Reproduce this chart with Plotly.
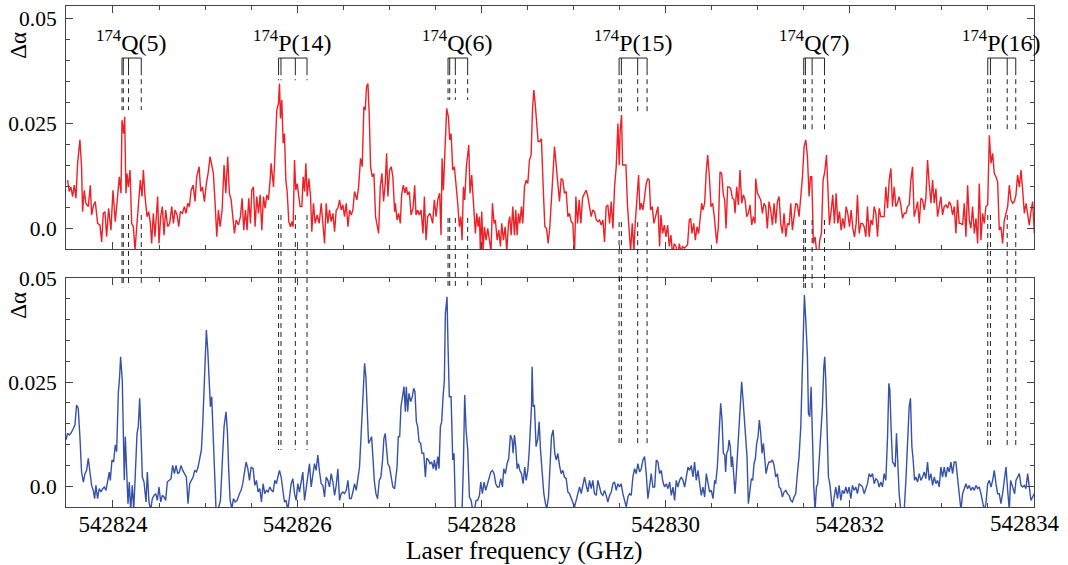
import plotly.graph_objects as go

F0 = 542823.0  # GHz, offsets below are relative to this

# ---------------- upper (red) spectrum ----------------
top_freq_offset = [
 0.507,0.525,0.543,0.562,0.580,0.598,0.616,0.641,0.659,0.670,
 0.688,0.706,0.732,0.754,0.768,0.790,0.808,0.833,0.859,0.877,
 0.895,0.913,0.931,0.953,0.978,1.000,1.025,1.043,1.069,1.087,
 1.098,1.116,1.127,1.141,1.152,1.167,1.185,1.203,1.221,1.239,
 1.254,1.275,1.297,1.315,1.330,1.348,1.370,1.388,1.406,1.420,
 1.438,1.456,1.471,1.485,1.500,1.518,1.536,1.554,1.572,1.594,
 1.616,1.638,1.656,1.674,1.696,1.714,1.732,1.754,1.775,1.793,
 1.812,1.830,1.848,1.870,1.891,1.909,1.935,1.953,1.971,1.993,
 2.014,2.033,2.054,2.072,2.090,2.109,2.127,2.145,2.163,2.185,
 2.206,2.225,2.246,2.264,2.283,2.301,2.319,2.337,2.362,2.384,
 2.402,2.420,2.438,2.456,2.474,2.493,2.507,2.525,2.543,2.561,
 2.580,2.598,2.616,2.634,2.652,2.670,2.688,2.706,2.717,2.743,
 2.761,2.779,2.797,2.808,2.819,2.833,2.848,2.862,2.877,2.891,
 2.909,2.927,2.942,2.956,2.971,2.985,3.000,3.014,3.032,3.051,
 3.065,3.080,3.094,3.109,3.127,3.145,3.159,3.177,3.195,3.217,
 3.239,3.261,3.279,3.297,3.315,3.333,3.351,3.369,3.388,3.406,
 3.424,3.442,3.460,3.478,3.496,3.514,3.533,3.551,3.569,3.587,
 3.605,3.623,3.648,3.667,3.688,3.706,3.724,3.739,3.753,3.768,
 3.782,3.797,3.815,3.833,3.851,3.869,3.884,3.902,3.920,3.938,
 3.956,3.971,3.985,4.003,4.021,4.039,4.058,
 4.066,4.084,4.102,4.120,4.134,4.152,4.171,4.185,4.200,4.218,
 4.236,4.258,4.276,4.290,4.308,4.326,4.345,4.366,4.381,4.399,
 4.417,4.439,4.453,4.471,4.489,4.508,4.526,4.547,4.562,4.573,
 4.587,4.605,4.623,4.642,4.656,4.671,4.689,4.707,4.725,4.743,
 4.761,4.776,4.790,4.805,4.819,4.837,4.863,4.877,4.895,4.910,
 4.924,4.935,4.950,4.964,4.979,4.989,5.004,5.018,5.033,5.051,
 5.069,5.087,5.105,5.120,5.138,5.152,5.171,5.189,5.207,5.221,
 5.239,5.258,5.276,5.294,5.308,5.323,5.341,5.359,5.373,5.388,
 5.402,5.417,5.435,5.449,5.468,5.486,5.504,5.522,5.540,5.555,
 5.569,5.584,5.602,5.616,5.634,5.652,5.671,5.689,5.707,5.725,
 5.743,5.758,5.772,5.794,5.812,5.830,5.848,5.866,5.884,5.902,
 5.921,5.939,5.957,5.975,5.993,6.011,6.026,6.044,6.062,6.080,
 6.098,6.120,6.138,6.156,6.174,6.192,6.210,6.228,6.247,6.265,
 6.283,6.301,6.319,6.337,6.355,6.373,6.392,6.410,6.428,6.446,
 6.464,6.482,6.497,6.507,6.522,6.533,6.551,6.569,6.587,6.605,
 6.620,6.638,6.656,6.670,6.689,6.707,6.721,6.736,6.754,6.772,
 6.790,6.808,6.823,6.837,6.855,6.873,6.895,6.917,6.935,6.949,
 6.968,6.986,7.004,7.022,7.040,7.058,7.076,7.094,7.113,7.131,
 7.149,7.167,7.185,7.203,7.221,7.239,7.257,7.272,7.286,7.305,
 7.323,7.341,7.359,7.377,7.392,7.406,7.424,7.442,7.457,7.475,
 7.493,7.511,7.529,
 7.555,7.573,7.591,7.609,7.627,7.642,7.656,7.674,7.689,7.707,
 7.725,7.743,7.754,7.772,7.790,7.808,7.826,7.844,7.863,7.881,
 7.899,7.917,7.935,7.953,7.971,7.978,7.997,8.015,8.033,8.051,
 8.069,8.087,8.105,8.123,8.141,8.160,8.178,8.196,8.214,8.232,
 8.250,8.268,8.286,8.305,8.323,8.341,8.359,8.377,8.395,8.413,
 8.431,8.449,8.468,8.486,8.504,8.522,8.540,8.558,8.573,8.587,
 8.605,8.623,8.638,8.656,8.674,8.692,8.710,8.728,8.747,8.761,
 8.779,8.797,8.815,8.833,8.852,8.870,8.888,8.906,8.924,8.942,
 8.960,8.978,8.997,9.015,9.033,9.051,9.069,9.083,9.102,9.120,
 9.138,9.156,9.174,9.192,9.210,9.228,9.247,9.265,9.283,9.301,
 9.319,9.337,9.355,9.373,9.391,9.410,9.428,9.446,9.464,9.482,
 9.500,9.518,9.536,9.554,9.573,9.591,9.609,9.627,9.645,9.663,
 9.681,9.699,9.717,9.736,9.754,9.772,9.790,9.808,9.826,9.844,
 9.862,9.881,9.899,9.917,9.935,9.953,9.971,9.989,10.007,10.025,
 10.043,10.062,10.080,10.098,10.116,10.134,10.152,10.170,10.188,10.207,
 10.225,10.243,10.261,10.279,10.297,10.315,10.333,10.352,10.370,10.388,
 10.406,10.424,10.442,10.460,10.478,10.497,10.515,10.533,10.551,10.569,
 10.587,10.605,10.623,10.641,10.659,10.678,10.696,10.714,10.732,10.750,
 10.768,10.786,10.804,10.822,10.841,10.859,10.877,10.895,10.913,10.931,
 10.949,10.967,10.985,11.004,11.015,
]
top_dalpha_milli = [
 11.4,8.7,9.8,7.5,10.2,7.1,15.4,21.0,14.6,3.9,
 9.0,5.9,5.1,10.2,3.1,5.5,6.3,1.1,0.7,-3.3,
 3.5,3.9,-2.1,4.7,-0.5,9.0,1.5,6.3,12.2,8.3,
 25.7,22.5,26.5,8.3,13.0,9.8,13.8,1.1,0.3,-5.2,
 -0.5,4.3,11.4,7.5,13.8,7.5,2.7,3.9,1.1,-3.7,
 3.5,-2.1,2.7,7.5,-3.7,2.7,5.1,-1.7,4.3,0.3,
 1.1,5.1,1.1,4.3,3.1,0.3,3.9,3.5,5.1,3.5,
 5.9,5.1,9.0,10.2,6.3,12.2,14.6,8.7,9.8,6.3,
 10.6,13.0,17.0,15.0,13.0,5.9,-2.1,4.3,0.3,4.3,
 15.0,8.3,17.0,8.3,6.7,2.7,-1.3,1.9,0.7,2.7,
 7.1,-0.5,4.3,-0.5,7.1,1.1,9.0,9.8,0.3,7.5,
 3.5,7.9,-0.5,7.5,4.7,7.9,6.7,11.4,15.4,9.8,
 21.0,28.1,29.7,34.4,26.1,30.5,20.2,22.5,11.4,8.7,
 1.5,0.3,1.5,0.3,16.2,9.0,10.6,7.5,5.1,5.1,
 12.2,8.7,15.4,7.5,11.8,7.5,-0.9,5.9,1.1,3.1,
 1.1,5.9,1.1,-3.7,5.9,1.1,4.3,1.5,3.5,-0.9,
 4.3,4.7,6.7,4.3,5.5,2.7,5.9,0.3,4.3,3.1,
 4.3,8.7,6.7,9.8,16.6,14.6,28.9,28.1,33.7,34.4,
 27.3,14.6,12.2,13.0,2.7,0.3,-1.3,9.8,13.0,6.3,
 10.6,17.8,7.5,13.8,14.6,12.2,3.9,
 5.9,1.9,3.5,1.1,7.9,10.2,8.3,9.8,7.9,8.7,
 3.1,4.7,10.2,3.1,4.3,3.1,4.3,-1.3,7.5,-2.9,
 2.7,3.5,2.7,1.1,6.7,2.7,6.7,8.3,-1.7,16.6,
 9.0,17.0,28.5,26.5,21.0,22.5,13.8,14.6,10.6,5.9,
 0.3,2.7,-2.9,9.8,6.7,14.6,19.8,8.3,12.6,7.5,
 2.7,-1.3,3.5,0.3,2.7,-5.6,3.9,-5.6,0.3,-2.9,
 -0.1,-2.9,-5.6,5.9,1.1,1.9,-2.9,-0.5,-4.4,1.1,
 -2.9,0.3,-5.6,1.1,2.7,-1.7,5.1,-1.7,4.3,-1.7,
 3.5,1.1,5.1,1.1,9.8,11.4,10.6,16.2,17.4,28.1,
 32.9,29.7,24.9,20.6,20.6,21.3,9.8,0.3,-0.1,-3.7,
 0.3,5.1,11.0,19.4,15.0,10.6,6.3,11.8,11.4,8.3,
 8.7,2.7,3.5,1.5,1.1,-6.8,7.5,1.1,6.7,1.1,
 7.1,8.3,9.0,7.5,4.7,2.7,4.3,3.9,1.9,1.5,
 1.9,0.7,1.9,-3.3,5.1,5.5,1.1,6.3,-0.1,9.8,
 14.6,24.9,15.0,23.3,26.9,15.0,15.0,15.0,5.1,0.3,
 -5.6,1.1,-5.6,1.1,7.5,12.6,4.3,5.9,4.3,8.3,
 10.6,11.8,11.4,4.3,5.1,1.1,3.1,5.1,-4.4,3.1,
 -1.3,0.7,-2.1,0.7,-4.4,-1.7,-6.4,-3.7,-4.4,-6.8,
 -3.7,-5.6,-4.4,-4.8,-4.4,-4.0,1.9,2.3,-1.3,1.1,
 -2.9,0.3,-1.3,2.7,5.9,4.3,5.9,13.8,17.4,12.2,
 5.1,5.9,2.7,
 -3.7,0.3,13.4,13.0,7.9,6.7,-0.1,9.8,9.8,9.4,
 7.1,6.7,3.5,9.8,5.5,13.8,5.9,7.9,6.7,2.7,
 3.5,5.5,0.7,2.7,1.1,11.8,8.3,7.5,6.7,3.5,
 5.9,5.1,-0.1,6.3,4.3,0.7,5.9,1.1,6.3,7.5,
 1.1,-1.3,3.5,-2.1,1.1,0.7,5.9,-0.5,3.5,5.9,
 5.5,2.7,7.5,12.2,19.4,21.0,17.0,7.5,12.2,12.2,
 -3.7,-2.1,-5.2,-7.6,-2.9,-1.3,11.4,13.4,17.4,9.0,
 0.7,3.9,7.9,1.1,8.3,1.1,3.9,-0.5,2.3,-0.1,
 5.1,3.5,0.3,4.3,-0.1,-2.1,1.1,7.9,-1.3,1.1,
 1.1,0.3,-2.1,5.1,-2.1,1.9,0.7,5.1,3.5,-2.1,
 4.7,2.7,2.7,2.7,9.8,4.7,11.4,14.2,5.1,9.8,
 5.1,5.9,7.5,5.5,2.3,3.5,3.5,5.1,5.5,11.4,
 14.6,2.7,4.3,6.3,1.1,7.1,6.7,4.3,7.1,16.2,
 10.6,5.9,11.4,5.9,9.4,2.7,5.1,7.5,3.1,5.1,
 5.5,4.7,6.3,5.5,3.1,5.1,-1.3,6.7,1.1,1.1,
 0.7,5.9,-2.1,10.2,1.9,-0.1,5.1,-1.3,2.3,-3.7,
 10.6,-2.9,3.5,1.1,5.1,5.5,22.1,15.4,17.8,13.0,
 12.2,11.0,-0.5,0.3,-3.7,1.9,3.5,5.1,10.2,6.7,
 5.9,6.3,7.9,12.6,9.8,13.8,9.0,3.5,5.9,2.7,
 0.7,3.9,6.3,-1.3,4.3,
]

# ---------------- lower (blue) spectrum ----------------
bot_freq_offset = [
 0.489,0.507,0.525,0.543,0.562,0.587,0.605,0.623,0.641,0.659,
 0.678,0.696,0.714,0.732,0.750,0.768,0.786,0.801,0.815,0.833,
 0.851,0.870,0.888,0.906,0.924,0.942,0.960,0.971,0.989,1.007,
 1.025,1.040,1.058,1.072,1.083,1.101,1.112,1.123,1.134,1.149,
 1.163,1.177,1.192,1.210,1.225,1.243,1.261,1.275,1.290,1.304,
 1.319,1.337,1.359,1.373,1.391,1.409,1.427,1.446,1.464,1.482,
 1.500,1.518,1.536,1.554,1.572,1.590,1.612,1.630,1.648,1.667,
 1.685,1.703,1.721,1.739,1.757,1.775,1.797,1.815,1.833,1.851,
 1.870,1.888,1.906,1.924,1.942,1.960,1.975,1.989,2.004,2.014,
 2.029,2.047,2.058,2.072,2.087,2.101,2.119,2.145,2.167,2.188,
 2.206,2.228,2.243,2.257,2.272,2.290,2.308,2.326,2.348,2.373,
 2.391,2.409,2.427,2.445,2.464,2.482,2.500,2.522,2.540,2.558,
 2.576,2.594,2.612,2.630,2.648,2.667,2.685,2.703,2.721,2.739,
 2.757,2.775,2.790,2.808,2.826,2.844,2.862,2.880,2.898,2.917,
 2.935,2.953,2.971,2.989,3.007,3.025,3.043,3.061,3.080,3.098,
 3.116,3.134,3.152,3.170,3.188,3.206,3.224,3.243,3.261,3.279,
 3.297,3.315,3.333,3.351,3.369,3.388,3.406,3.424,3.442,3.460,
 3.478,3.496,3.514,3.533,3.551,3.569,3.587,3.605,3.623,3.641,
 3.659,3.677,3.695,3.714,3.732,3.746,3.761,3.775,3.793,3.808,
 3.822,3.837,3.855,3.873,3.891,3.909,3.927,3.942,3.956,3.971,
 3.985,4.003,4.021,4.039,4.058,
 4.066,4.084,4.098,4.113,4.127,4.145,4.160,4.174,4.185,4.200,
 4.214,4.232,4.250,4.265,4.279,4.294,4.308,4.323,4.341,4.355,
 4.374,4.392,4.406,4.424,4.442,4.460,4.479,4.489,4.508,4.526,
 4.540,4.555,4.569,4.584,4.598,4.609,4.620,4.627,4.638,4.652,
 4.671,4.689,4.703,4.718,4.736,4.754,4.772,4.790,4.805,4.819,
 4.834,4.852,4.870,4.888,4.906,4.924,4.942,4.960,4.979,4.993,
 5.011,5.029,5.047,5.066,5.084,5.102,5.120,5.138,5.156,5.174,
 5.192,5.210,5.229,5.243,5.261,5.279,5.297,5.315,5.334,5.344,
 5.359,5.373,5.388,5.402,5.417,5.435,5.453,5.471,5.486,5.504,
 5.518,5.533,5.544,5.551,5.562,5.576,5.594,5.613,5.627,5.642,
 5.660,5.678,5.696,5.710,5.729,5.747,5.761,5.779,5.797,5.812,
 5.830,5.848,5.866,5.884,5.902,5.921,5.939,5.957,5.975,5.993,
 6.011,6.029,6.047,6.066,6.084,6.102,6.120,6.138,6.156,6.174,
 6.192,6.210,6.228,6.247,6.265,6.283,6.301,6.319,6.337,6.355,
 6.373,6.392,6.410,6.428,6.446,6.464,6.482,6.500,6.518,6.536,
 6.555,6.573,6.591,6.609,6.627,6.645,6.663,6.681,6.699,6.718,
 6.736,6.754,6.772,6.790,6.808,6.826,6.844,6.862,6.881,6.899,
 6.917,6.935,6.953,6.971,6.989,7.007,7.026,7.044,7.062,7.080,
 7.098,7.116,7.134,7.152,7.170,7.189,7.207,7.225,7.243,7.261,
 7.279,7.297,7.315,7.333,7.352,7.370,7.388,7.406,7.424,7.442,
 7.460,7.478,7.496,7.515,7.533,
 7.544,7.562,7.580,7.598,7.613,7.627,7.642,7.652,7.663,7.678,
 7.689,7.703,7.714,7.725,7.739,7.754,7.768,7.783,7.797,7.812,
 7.826,7.841,7.855,7.870,7.884,7.899,7.917,7.931,7.946,7.960,
 7.975,7.989,8.004,8.018,8.033,8.047,8.062,8.076,8.091,8.109,
 8.123,8.141,8.160,8.178,8.196,8.214,8.232,8.250,8.268,8.286,
 8.305,8.323,8.341,8.359,8.377,8.395,8.413,8.431,8.449,8.468,
 8.482,8.497,8.507,8.522,8.540,8.551,8.565,8.580,8.594,8.609,
 8.623,8.638,8.652,8.667,8.685,8.703,8.718,8.728,8.739,8.754,
 8.768,8.783,8.797,8.812,8.830,8.848,8.866,8.884,8.902,8.920,
 8.939,8.957,8.975,8.993,9.011,9.029,9.047,9.065,9.083,9.102,
 9.120,9.138,9.156,9.174,9.192,9.210,9.228,9.247,9.265,9.283,
 9.301,9.319,9.337,9.355,9.373,9.391,9.410,9.424,9.435,9.449,
 9.464,9.478,9.493,9.507,9.522,9.536,9.554,9.573,9.591,9.609,
 9.627,9.645,9.659,9.674,9.688,9.703,9.717,9.736,9.754,9.772,
 9.790,9.808,9.826,9.844,9.862,9.881,9.899,9.917,9.935,9.953,
 9.971,9.989,10.007,10.025,10.043,10.062,10.080,10.098,10.116,10.134,
 10.152,10.170,10.188,10.207,10.225,10.243,10.261,10.279,10.297,10.315,
 10.333,10.352,10.370,10.388,10.406,10.424,10.442,10.460,10.478,10.497,
 10.515,10.533,10.551,10.569,10.587,10.605,10.623,10.641,10.659,10.678,
 10.696,10.714,10.732,10.746,10.761,10.775,10.790,10.804,10.822,10.841,
 10.859,10.877,10.895,10.913,10.931,10.949,10.967,10.985,11.004,11.015,
]
bot_dalpha_milli = [
 11.1,12.7,12.3,12.7,13.5,14.7,19.5,18.7,11.9,3.4,
 1.0,3.0,3.8,6.7,3.4,0.2,-1.0,-3.0,0.2,-3.0,
 -0.6,-1.4,-0.6,-0.2,-1.0,1.0,3.4,1.4,6.3,5.8,
 9.9,8.3,22.3,26.3,31.1,25.5,11.9,1.4,11.9,3.4,
 -4.2,1.0,-5.8,0.2,-5.8,3.0,12.7,14.3,21.1,12.7,
 2.2,1.0,-3.8,3.4,-3.8,-5.8,-3.0,-2.2,-1.8,-3.4,
 -0.2,-3.8,-2.2,-2.6,-3.4,1.0,1.4,1.8,5.0,3.0,
 5.0,3.0,3.4,5.0,3.8,3.0,2.2,-4.2,0.6,1.4,
 2.2,3.8,3.4,4.6,7.1,8.7,15.1,22.3,29.5,37.5,
 32.7,21.5,19.1,21.5,11.9,1.4,-5.8,-5.4,-3.4,6.3,
 14.3,17.9,12.7,3.8,-3.4,-5.4,-3.0,-3.8,-3.4,-1.8,
 -1.0,0.6,3.8,5.8,4.3,1.4,4.6,4.2,0.2,1.4,
 -1.4,-0.6,-3.8,0.6,-1.8,-1.0,-1.4,-0.2,-1.0,-1.4,
 1.4,0.6,2.2,3.8,2.2,-1.0,-3.8,-3.4,-5.8,-2.6,
 0.6,1.8,-1.8,-3.4,0.6,-1.4,1.4,3.4,-3.4,-0.6,
 2.6,5.4,-0.2,3.0,5.4,3.8,7.5,3.4,0.6,0.2,
 -2.6,2.2,1.4,-0.2,3.0,1.0,-2.2,0.2,4.2,-3.4,
 -1.8,-1.4,-1.8,-1.0,1.4,-3.0,-3.0,-1.4,0.6,-1.0,
 2.2,4.6,12.7,20.7,29.5,26.3,15.9,10.3,11.1,11.9,
 7.1,1.4,-1.8,-3.0,1.4,2.2,6.3,11.5,12.7,8.7,
 5.4,4.6,2.2,-0.2,-0.6,
 1.0,4.6,11.9,11.9,19.1,21.5,23.9,17.9,23.9,17.9,
 22.3,20.3,21.5,23.5,22.7,15.5,14.3,10.7,10.3,7.9,
 7.9,2.2,6.7,6.3,5.4,5.8,4.2,6.3,3.8,7.1,
 4.2,14.3,15.5,21.5,25.5,41.5,44.7,45.5,33.5,21.5,
 21.5,6.3,7.9,-5.8,-6.6,-5.8,-5.8,-5.8,5.4,21.9,
 13.5,8.7,-2.6,-3.4,-5.8,-5.8,-3.4,-3.4,-2.2,1.0,
 -1.8,1.0,-1.0,0.6,1.8,3.4,3.8,3.0,0.6,-0.2,
 -0.2,1.8,-0.2,4.2,3.0,5.4,6.7,12.3,11.1,7.9,
 12.3,9.5,4.2,5.4,3.8,3.0,0.6,4.6,1.4,3.8,
 7.9,13.5,19.1,28.7,19.1,19.5,9.5,11.5,15.5,8.7,
 2.2,-1.8,-4.2,-5.4,-2.6,4.6,11.9,13.5,7.9,6.3,
 7.9,5.0,3.0,3.8,2.2,1.8,-1.4,-1.8,-3.0,-3.8,
 -5.0,-3.4,-1.8,-0.2,-1.8,0.6,2.2,0.2,-1.4,1.4,
 -0.6,1.4,-1.8,-2.2,1.4,-0.2,-1.8,-2.2,-1.0,-2.2,
 -3.8,-2.2,-1.4,0.6,1.0,-1.0,0.6,-0.2,0.6,-1.8,
 -3.8,-5.0,-2.6,-1.8,-2.2,2.2,4.2,3.0,5.4,3.4,
 4.2,6.3,7.1,3.0,-3.0,0.6,3.0,-0.2,-0.2,6.3,
 5.8,3.0,3.8,1.0,-0.2,0.6,-0.6,1.0,-2.2,-0.2,
 -3.4,1.4,-0.2,1.4,2.2,1.4,-0.2,2.2,4.6,3.8,
 5.0,2.2,5.8,1.4,3.8,0.6,-2.2,-0.2,-2.6,3.0,
 0.6,-1.4,-1.0,-3.0,1.4,
 0.6,4.6,11.1,19.9,15.9,7.9,7.5,3.4,7.9,8.7,
 11.1,9.5,4.6,7.1,3.0,-1.8,3.0,9.5,15.9,21.5,
 25.1,20.7,15.9,9.5,7.1,-4.2,-0.2,1.8,1.4,5.4,
 6.7,10.3,11.9,15.9,12.7,7.9,10.3,6.3,3.0,5.0,
 5.8,5.8,6.3,5.0,2.2,3.0,-0.2,-0.6,-2.6,-1.4,
 -1.0,-1.8,-2.2,-3.4,-3.8,-2.6,-1.8,3.0,7.1,14.3,
 25.5,37.5,45.9,39.9,31.1,17.5,16.7,23.9,7.9,-0.2,
 -5.8,-0.2,0.6,6.3,12.7,19.1,28.7,31.1,25.5,11.1,
 2.2,0.6,-1.8,-5.8,-2.6,-0.2,-3.0,0.2,-3.4,-1.0,
 -1.8,-0.2,-1.8,-0.2,-3.0,0.2,-1.0,-0.2,-1.8,0.6,
 0.2,-0.2,-1.8,-0.6,0.6,3.0,2.2,3.0,0.6,1.8,
 1.4,-0.2,1.0,-0.2,3.0,1.4,11.9,24.7,23.1,13.5,
 5.8,5.4,4.6,12.7,4.6,-1.8,-5.8,-5.8,-5.8,1.4,
 11.9,19.1,21.1,9.5,6.3,1.4,2.2,1.0,3.0,1.4,
 2.2,3.4,1.8,5.8,1.4,3.0,0.2,2.2,0.6,1.4,
 -0.2,4.6,2.2,4.6,2.2,4.6,3.4,5.8,3.0,5.8,
 5.8,2.2,-0.2,-5.8,-1.8,-0.6,0.6,-0.6,0.2,-1.0,
 -0.2,-1.0,0.2,-0.6,-0.2,-1.8,-3.4,-5.8,-4.2,0.6,
 1.4,-0.2,1.4,3.8,0.6,-1.8,-1.8,-4.2,-1.8,1.4,
 4.6,-1.0,-5.8,1.4,0.2,-0.6,-1.8,1.4,2.2,3.0,
 0.2,-0.2,0.2,-0.6,3.0,-1.0,-3.4,-2.6,-1.8,-0.6,
]

# ---------------- line assignments (174Yb2 transitions) ----------------
isotope = "174"
group_names = ["Q(5)", "P(14)", "Q(6)", "P(15)", "Q(7)", "P(16)"]
group_line_offsets = [
    [1.098, 1.112, 1.169, 1.307],
    [2.798, 2.824, 2.980, 3.107],
    [4.638, 4.656, 4.717, 4.851],
    [6.495, 6.520, 6.697, 6.799],
    [8.500, 8.518, 8.591, 8.725],
    [10.498, 10.527, 10.709, 10.802],
]
# vertical extent of dashed markers (in Delta-alpha units)
upper_dash_end = [0.0281, 0.0352, 0.0305, 0.0276, 0.0226, 0.0226]
lower_dash_start = [0.0031, 0.0031, 0.0024, 0.0014, 0.0019, 0.0031]
bottom_dash_end = [0.0478, 0.0087, 0.0478, 0.0094, 0.0471, 0.0094]

x_ticks = [542824, 542826, 542828, 542830, 542832, 542834]
x_tick_labels = ["542824", "542826", "542828", "542830", "542832", ""]
last_tick_label = "542834"   # drawn pulled-in at the right edge, as in the original

# ---------------- figure ----------------
SERIF = "Liberation Serif, Times New Roman, serif"
RED = "#ee2026"
BLUE = "#3552a8"
TOP_DOM = [0.515, 1.0]
BOT_DOM = [0.0, 0.457]
TOP_RNG = [-0.005, 0.0529]
BOT_RNG = [-0.005, 0.050]
X_RNG = [542823.49, 542834.0]


def top_to_paper(v):
    return TOP_DOM[0] + (v - TOP_RNG[0]) / (TOP_RNG[1] - TOP_RNG[0]) * (TOP_DOM[1] - TOP_DOM[0])


def bot_to_paper(v):
    return BOT_DOM[0] + (v - BOT_RNG[0]) / (BOT_RNG[1] - BOT_RNG[0]) * (BOT_DOM[1] - BOT_DOM[0])


fig = go.Figure()
fig.add_trace(go.Scatter(
    x=[F0 + f for f in top_freq_offset],
    y=[v / 1000.0 for v in top_dalpha_milli],
    mode="lines", line=dict(color=RED, width=1.4),
    xaxis="x", yaxis="y", showlegend=False, hoverinfo="skip"))
fig.add_trace(go.Scatter(
    x=[F0 + f for f in bot_freq_offset],
    y=[v / 1000.0 for v in bot_dalpha_milli],
    mode="lines", line=dict(color=BLUE, width=1.4),
    xaxis="x2", yaxis="y2", showlegend=False, hoverinfo="skip"))

BRACKET_Y = 0.0405
SOLID_END = 0.0376
LABEL_Y = 0.0445
LINE_COL = "#222222"
DASH = "5px,4px"

shapes = []
annotations = []
for name, offs, ue, ls, be in zip(group_names, group_line_offsets,
                                  upper_dash_end, lower_dash_start, bottom_dash_end):
    xs = [F0 + o for o in offs]
    shapes.append(dict(type="line", xref="x", yref="y", x0=xs[0], x1=xs[-1],
                       y0=BRACKET_Y, y1=BRACKET_Y, line=dict(color=LINE_COL, width=1)))
    for xv in xs:
        shapes.append(dict(type="line", xref="x", yref="y", x0=xv, x1=xv,
                           y0=BRACKET_Y, y1=SOLID_END, line=dict(color=LINE_COL, width=1)))
        shapes.append(dict(type="line", xref="x", yref="y", x0=xv, x1=xv,
                           y0=SOLID_END, y1=ue, line=dict(color=LINE_COL, width=1, dash=DASH)))
        shapes.append(dict(type="line", xref="x", yref="paper", x0=xv, x1=xv,
                           y0=top_to_paper(ls), y1=bot_to_paper(be),
                           line=dict(color=LINE_COL, width=1, dash=DASH)))
    annotations.append(dict(
        text=f"<sup>{isotope}</sup>{name}", x=(xs[0] + xs[-1]) / 2, y=LABEL_Y,
        xref="x", yref="y", showarrow=False, xanchor="center", yanchor="middle",
        font=dict(family=SERIF, size=24, color="black")))

annotations += [
    dict(text="Δα", x=-0.05, y=0.922, xref="paper", yref="paper", showarrow=False,
         textangle=-90, xanchor="center", yanchor="middle",
         font=dict(family=SERIF, size=23, color="black")),
    dict(text="Δα", x=-0.05, y=0.403, xref="paper", yref="paper", showarrow=False,
         textangle=-90, xanchor="center", yanchor="middle",
         font=dict(family=SERIF, size=23, color="black")),
    dict(text="Laser frequency (GHz)", x=0.473, y=-0.086, xref="paper", yref="paper",
         showarrow=False, xanchor="center", yanchor="middle",
         font=dict(family=SERIF, size=25.5, color="black")),
    dict(text=last_tick_label, x=x_ticks[-1], y=-0.033, xref="x2", yref="paper",
         xshift=-9, showarrow=False, xanchor="center", yanchor="middle",
         font=dict(family=SERIF, size=23, color="black")),
]

axis_common = dict(showline=True, linecolor="#444444", linewidth=1, mirror="ticks",
                   ticks="inside", ticklen=7, tickcolor="#444444", showgrid=False,
                   zeroline=False, automargin=False)

fig.update_layout(
    width=1068, height=565,
    margin=dict(l=66, r=34, t=6, b=58),
    paper_bgcolor="white", plot_bgcolor="white",
    shapes=shapes, annotations=annotations,
    xaxis=dict(domain=[0, 1], anchor="y", range=X_RNG, tickvals=x_ticks,
               showticklabels=False,
               minor=dict(ticks="inside", ticklen=4, dtick=0.5, tick0=542824,
                          tickcolor="#444444"),
               **axis_common),
    xaxis2=dict(domain=[0, 1], anchor="y2", range=X_RNG, tickvals=x_ticks,
                ticktext=x_tick_labels, matches="x", ticklabelstandoff=-4,
                tickfont=dict(family=SERIF, size=23, color="black"),
                minor=dict(ticks="inside", ticklen=4, dtick=0.5, tick0=542824,
                           tickcolor="#444444"),
                **axis_common),
    yaxis=dict(domain=TOP_DOM, anchor="x", range=TOP_RNG, tick0=0, dtick=0.025,
               labelalias={"0": "0.0"}, ticklabelstandoff=4,
               tickfont=dict(family=SERIF, size=21.5, color="black"),
               minor=dict(ticks="inside", ticklen=4, dtick=0.005, tick0=0,
                          tickcolor="#444444"),
               **axis_common),
    yaxis2=dict(domain=BOT_DOM, anchor="x2", range=BOT_RNG, tick0=0, dtick=0.025,
                labelalias={"0": "0.0"}, ticklabelstandoff=4,
                tickfont=dict(family=SERIF, size=21.5, color="black"),
                minor=dict(ticks="inside", ticklen=4, dtick=0.005, tick0=0,
                           tickcolor="#444444"),
                **axis_common),
)

fig.write_html("out.html", config={"displayModeBar": False},
               post_script="document.body.style.margin='0px';")
